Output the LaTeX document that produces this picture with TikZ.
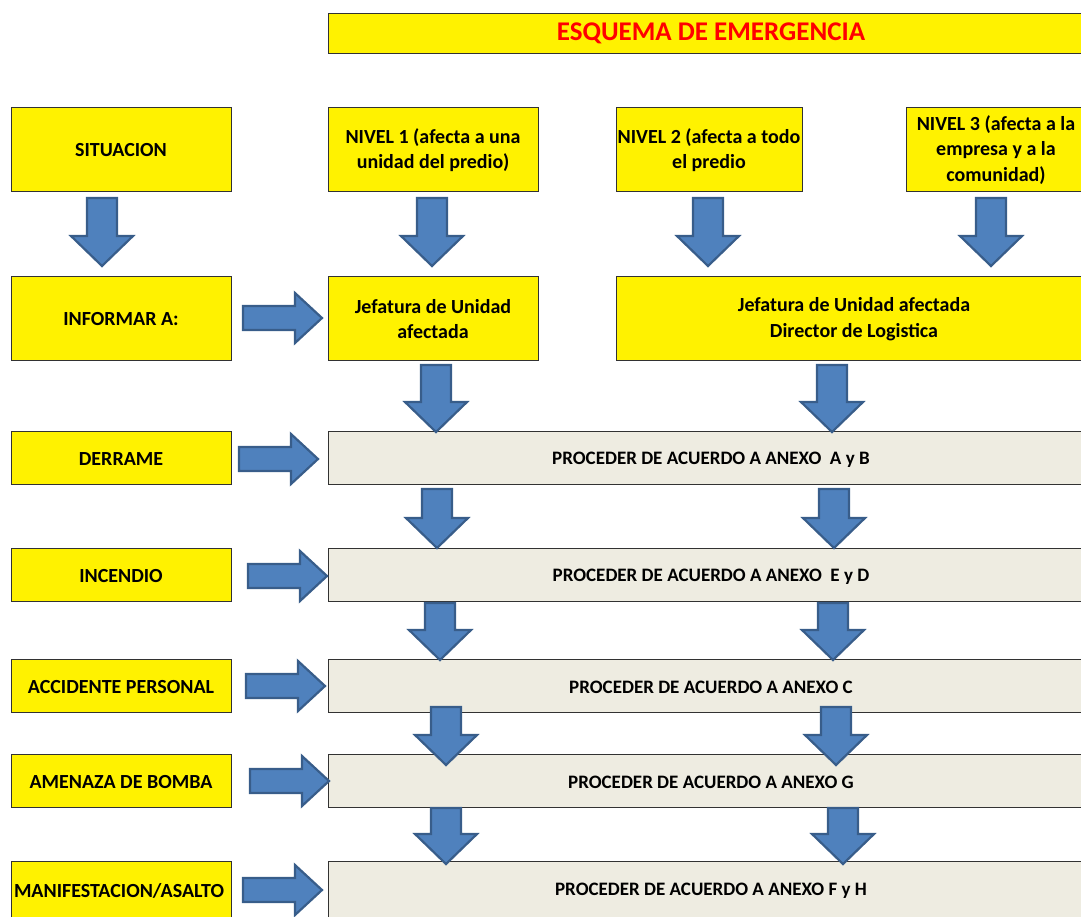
\documentclass[tikz,border=0pt]{standalone}
\usepackage{fontspec}
\setmainfont{Carlito}
\definecolor{arrfill}{RGB}{79,129,189}
\definecolor{arrdraw}{RGB}{56,93,138}
\definecolor{boxgrey}{RGB}{238,236,225}
\definecolor{boxline}{RGB}{50,50,50}
\definecolor{ttlred}{RGB}{255,0,0}
\newcommand\dnarrow[3]{% cx, ytop, ybot
  \fill[arrfill,draw=arrdraw,line width=2.2pt,line join=miter]
   (#1-15,#2) -- (#1+15,#2) -- (#1+15,#3-30) -- (#1+31,#3-30) -- (#1,#3)
   -- (#1-31,#3-30) -- (#1-15,#3-30) -- cycle;}
\newcommand\rtarrow[3]{% x1, x2, cy
  \fill[arrfill,draw=arrdraw,line width=2.2pt,line join=miter]
   (#1,#3-12) -- (#2-27,#3-12) -- (#2-27,#3-25) -- (#2,#3) -- (#2-27,#3+25)
   -- (#2-27,#3+12) -- (#1,#3+12) -- cycle;}
\begin{document}
\begin{tikzpicture}[x=1pt,y=-1pt,
  ybox/.style={fill=yellow,draw=boxline,line width=1pt},
  gbox/.style={fill=boxgrey,draw=boxline,line width=1pt},
  lbl/.style={font=\bfseries\fontsize{20}{25.5}\selectfont,align=center,text=black},
  plbl/.style={font=\bfseries\fontsize{19}{25}\selectfont,align=center,text=black}]
\useasboundingbox (0,0) rectangle (1081,916);
% header
\filldraw[ybox] (328,13) rectangle (1085,53);
\node[font=\bfseries\fontsize{27}{30}\selectfont,text=ttlred] (title) at (711,33) {ESQUEMA DE EMERGENCIA};
% row 1
\filldraw[ybox] (11,107) rectangle (231,191);
\node[lbl] (sit) at (121,150) {SITUACION};
\filldraw[ybox] (328,107) rectangle (538,191);
\node[lbl] (n1) at (433,150) {NIVEL 1 (afecta a una\\unidad del predio)};
\filldraw[ybox] (616,107) rectangle (802,191);
\node[lbl] (n2) at (709,150) {NIVEL 2 (afecta a todo\\el predio};
\filldraw[ybox] (906,107) rectangle (1085,191);
\node[lbl] (n3) at (996,150) {NIVEL 3 (afecta a la\\empresa y a la\\comunidad)};
% row 2
\filldraw[ybox] (11,276) rectangle (231,360);
\node[lbl] (inf) at (121,319) {INFORMAR A:};
\filldraw[ybox] (328,276) rectangle (538,360);
\node[lbl] (j1) at (433,319) {Jefatura de Unidad\\afectada};
\filldraw[ybox] (616,276) rectangle (1085,360);
\node[lbl] (j2) at (854,319) {Jefatura de Unidad afectada\\Director de Logistica};
% row 3
\filldraw[ybox] (11,431) rectangle (231,484);
\node[lbl] (der) at (121,459) {DERRAME};
\filldraw[gbox] (328,431) rectangle (1085,484);
\node[plbl] (p1) at (711,460) {PROCEDER DE ACUERDO A ANEXO\ \ A y B};
% row 4
\filldraw[ybox] (11,548) rectangle (231,601);
\node[lbl] (inc) at (121,576) {INCENDIO};
\filldraw[gbox] (328,548) rectangle (1085,601);
\node[plbl] (p2) at (711,577) {PROCEDER DE ACUERDO A ANEXO\ \ E y D};
% row 5
\filldraw[ybox] (11,659) rectangle (231,712);
\node[lbl] (acc) at (121,687) {ACCIDENTE PERSONAL};
\filldraw[gbox] (328,659) rectangle (1085,712);
\node[plbl] (p3) at (711,687) {PROCEDER DE ACUERDO A ANEXO C};
% row 6
\filldraw[ybox] (11,754) rectangle (231,807);
\node[lbl] (ame) at (121,782) {AMENAZA DE BOMBA};
\filldraw[gbox] (328,754) rectangle (1085,807);
\node[plbl] (p4) at (711,782) {PROCEDER DE ACUERDO A ANEXO G};
% row 7
\filldraw[ybox] (11,861) rectangle (231,925);
\node[lbl] (man) at (119,891) {MANIFESTACION/ASALTO};
\filldraw[gbox] (328,861) rectangle (1085,925);
\node[plbl] (p5) at (711,891) {PROCEDER DE ACUERDO A ANEXO F y H};
% block arrows (drawn on top)
\dnarrow{102}{198}{266}
\dnarrow{432}{198}{266}
\dnarrow{708}{198}{266}
\dnarrow{991}{198}{266}
\rtarrow{243}{322}{318}
\dnarrow{436}{365}{432}
\dnarrow{832}{365}{432}
\rtarrow{239}{318}{459}
\dnarrow{437}{489}{548}
\dnarrow{834}{489}{548}
\rtarrow{248}{327}{576}
\dnarrow{440}{603}{660}
\dnarrow{833}{603}{660}
\rtarrow{246}{325}{686}
\dnarrow{446}{707}{765}
\dnarrow{836}{707}{765}
\rtarrow{250}{329}{781}
\dnarrow{446}{808}{864}
\dnarrow{843}{808}{864}
\rtarrow{243}{322}{890}
\end{tikzpicture}
\end{document}
